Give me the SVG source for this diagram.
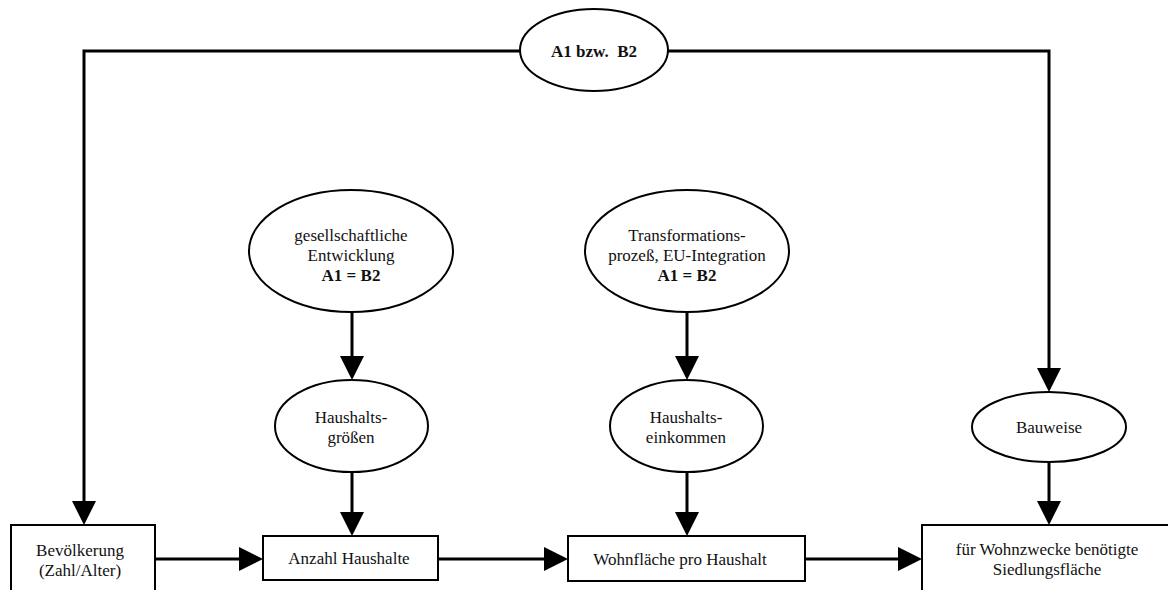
<svg xmlns="http://www.w3.org/2000/svg" width="1168" height="590" viewBox="0 0 1168 590">
<style>
.n{fill:#fff;stroke:#000;stroke-width:2}
.c{fill:none;stroke:#000;stroke-width:3}
text{font-family:"Liberation Serif","Times New Roman",serif;font-size:17px;fill:#111;text-anchor:middle}
.b{font-weight:bold}
</style>
<defs>
<marker id="ah" viewBox="0 0 24 24" markerWidth="24" markerHeight="24" markerUnits="userSpaceOnUse" refX="0" refY="12" orient="auto">
<path d="M0,0 L24,12 L0,24 z" fill="#000"/>
</marker>
</defs>
<rect width="1168" height="590" fill="#fff"/>
<g id="connectors">
<path class="c" d="M520,51 H84 V501" marker-end="url(#ah)"/>
<path class="c" d="M668,51 H1049 V368" marker-end="url(#ah)"/>
<path class="c" d="M352,312 V356" marker-end="url(#ah)"/>
<path class="c" d="M687,312 V356" marker-end="url(#ah)"/>
<path class="c" d="M352,472 V512" marker-end="url(#ah)"/>
<path class="c" d="M687,472 V512" marker-end="url(#ah)"/>
<path class="c" d="M1049,462 V501" marker-end="url(#ah)"/>
<path class="c" d="M155,559 H239" marker-end="url(#ah)"/>
<path class="c" d="M438,559 H544" marker-end="url(#ah)"/>
<path class="c" d="M805,559 H898" marker-end="url(#ah)"/>
</g>
<g id="szenario">
<ellipse class="n" cx="594" cy="50" rx="74" ry="41"/>
<text class="b" x="594" y="57" xml:space="preserve">A1 bzw.  B2</text>
</g>
<g id="gesellschaft">
<ellipse class="n" cx="351" cy="251" rx="102" ry="61"/>
<text x="351" y="241">gesellschaftliche</text>
<text x="351" y="261">Entwicklung</text>
<text class="b" x="351" y="281">A1 = B2</text>
</g>
<g id="transformation">
<ellipse class="n" cx="687" cy="251" rx="102" ry="61"/>
<text x="687" y="241">Transformations-</text>
<text x="687" y="261">prozeß, EU-Integration</text>
<text class="b" x="687" y="281">A1 = B2</text>
</g>
<g id="haushaltsgroessen">
<ellipse class="n" cx="351.5" cy="426" rx="76.5" ry="46"/>
<text x="351" y="423">Haushalts-</text>
<text x="351" y="443">größen</text>
</g>
<g id="haushaltseinkommen">
<ellipse class="n" cx="686.5" cy="426" rx="76.5" ry="46"/>
<text x="686" y="423">Haushalts-</text>
<text x="686" y="443">einkommen</text>
</g>
<g id="bauweise">
<ellipse class="n" cx="1049" cy="427" rx="77" ry="35"/>
<text x="1049" y="433">Bauweise</text>
</g>
<g id="bevoelkerung">
<rect class="n" x="11" y="525" width="144" height="80"/>
<text x="80" y="556">Bevölkerung</text>
<text x="80" y="576">(Zahl/Alter)</text>
</g>
<g id="anzahl">
<rect class="n" x="263" y="536" width="175" height="44"/>
<text x="349" y="564">Anzahl Haushalte</text>
</g>
<g id="wohnflaeche">
<rect class="n" x="568" y="536" width="237" height="45"/>
<text x="680" y="565">Wohnfläche pro Haushalt</text>
</g>
<g id="siedlungsflaeche">
<rect class="n" x="922" y="525" width="260" height="80"/>
<text x="1047" y="555">für Wohnzwecke benötigte</text>
<text x="1047" y="575">Siedlungsfläche</text>
</g>
</svg>
